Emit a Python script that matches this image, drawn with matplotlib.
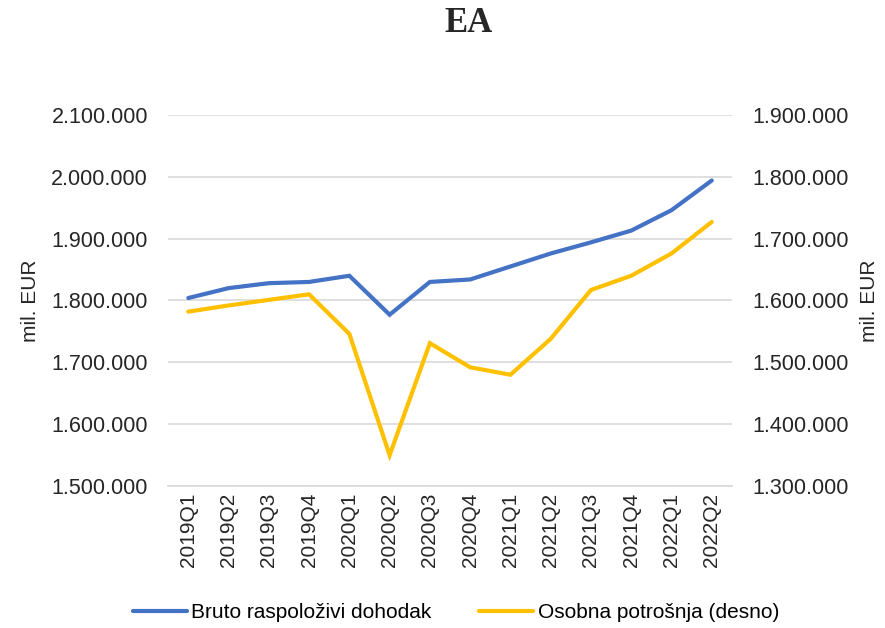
import matplotlib.pyplot as plt
from matplotlib import ticker

quarters = ['2019Q1', '2019Q2', '2019Q3', '2019Q4', '2020Q1', '2020Q2', '2020Q3',
            '2020Q4', '2021Q1', '2021Q2', '2021Q3', '2021Q4', '2022Q1', '2022Q2']
# bruto raspolozivi dohodak (lijeva os), mil. EUR
income = [1804000, 1820000, 1828000, 1830000, 1840000, 1777000, 1830000,
          1834000, 1855000, 1876000, 1894000, 1913000, 1946000, 1994000]
# osobna potrosnja (desna os), mil. EUR
consumption = [1582000, 1592000, 1601000, 1610000, 1546000, 1350000, 1531000,
               1492000, 1480000, 1538000, 1617000, 1640000, 1676000, 1727000]

left_ticks = [1500000, 1600000, 1700000, 1800000, 1900000, 2000000, 2100000]
right_ticks = [1300000, 1400000, 1500000, 1600000, 1700000, 1800000, 1900000]

blue = '#4472C4'
gold = '#FFC000'
txt = '#262626'

plt.rcParams['font.family'] = ['Liberation Sans', 'DejaVu Sans']

def dot_fmt(v, pos):
    return f'{int(round(v)):,}'.replace(',', '.')

fig = plt.figure(figsize=(8.85, 6.28), dpi=100)
ax = fig.add_axes([0.190, 0.226, 0.637, 0.591])
ax2 = ax.twinx()

x = list(range(len(quarters)))
l1, = ax.plot(x, income, color=blue, lw=3, solid_capstyle='round',
              solid_joinstyle='miter', label='Bruto raspoloživi dohodak', zorder=3)
l2, = ax2.plot(x, consumption, color=gold, lw=3, solid_capstyle='round',
               solid_joinstyle='miter', label='Osobna potrošnja (desno)', zorder=3)

ax.set_xlim(-0.5, len(quarters) - 0.5)
ax.set_ylim(left_ticks[0], left_ticks[-1])
ax2.set_ylim(right_ticks[0], right_ticks[-1])
ax.set_yticks(left_ticks)
ax2.set_yticks(right_ticks)
ax.yaxis.set_major_formatter(ticker.FuncFormatter(dot_fmt))
ax2.yaxis.set_major_formatter(ticker.FuncFormatter(dot_fmt))
ax.set_xticks(x)
ax.set_xticklabels(quarters, rotation=90, fontsize=15, color=txt)

ax.grid(axis='y', color='#d9d9d9', lw=1.2, zorder=0)
for a in (ax, ax2):
    for s in a.spines.values():
        s.set_visible(False)
    a.tick_params(length=0, labelsize=15.5, colors=txt)
ax.spines['bottom'].set_visible(True)
ax.spines['bottom'].set_color('#d9d9d9')
ax.spines['bottom'].set_linewidth(1.2)
ax.tick_params(axis='y', pad=14.5)
ax2.tick_params(axis='y', pad=14.5)
ax.tick_params(axis='x', pad=5, labelsize=15)

ax.set_ylabel('mil. EUR', fontsize=15, color=txt, labelpad=8)
ax2.set_ylabel('mil. EUR', fontsize=15, color=txt, labelpad=8)

fig.text(0.529, 0.962, 'EA', ha='center', va='center', fontsize=25,
         fontweight='bold', family='Liberation Serif', color=txt)

fig.legend([l1, l2], [l1.get_label(), l2.get_label()], loc='center',
           bbox_to_anchor=(0.515, 0.024), ncol=2, frameon=False, fontsize=15,
           handlelength=2.6, handletextpad=0.2, columnspacing=2.3)

fig.savefig('out.png', dpi=100)
plt.close()
